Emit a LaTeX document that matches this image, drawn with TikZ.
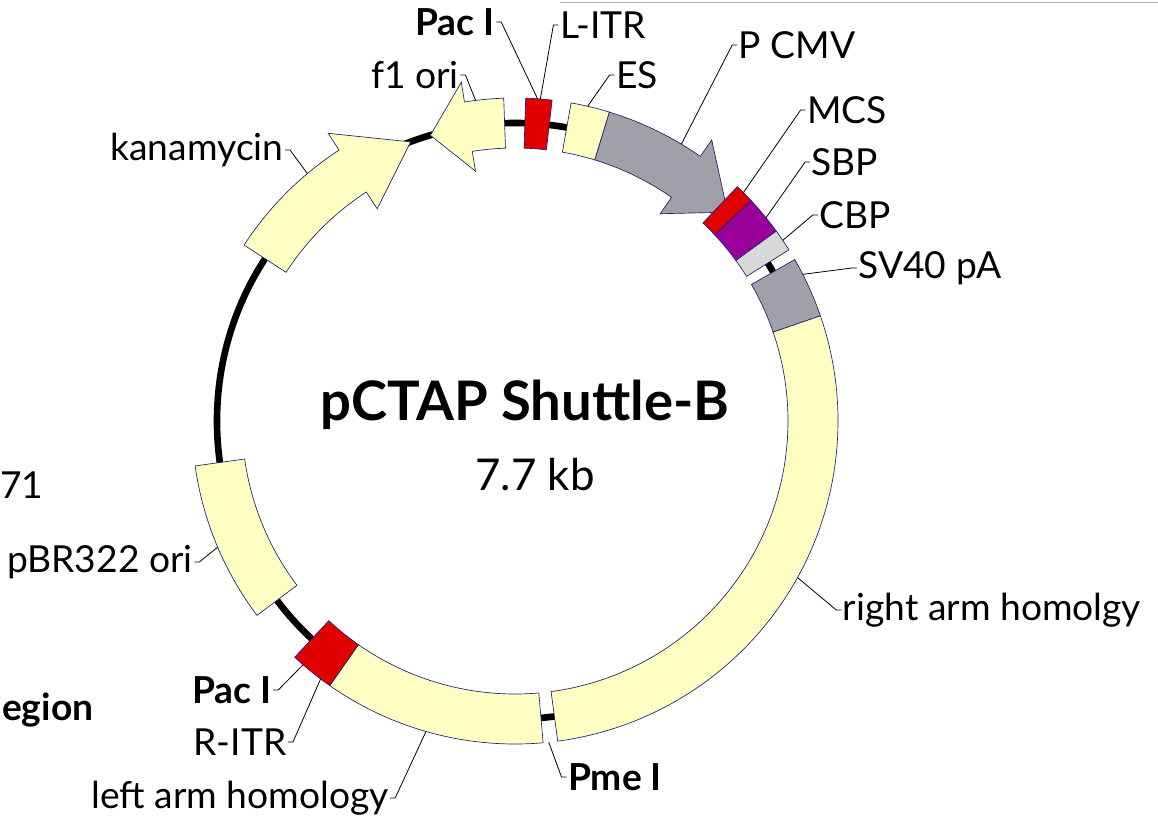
\documentclass[tikz,border=0pt]{standalone}
\usepackage{fontspec}
\setmainfont{Lato}
\usetikzlibrary{positioning}
\definecolor{featyellow}{HTML}{FFFFC4}
\definecolor{featred}{HTML}{E00000}
\definecolor{featgray}{HTML}{A0A0A8}
\definecolor{featpurple}{HTML}{990099}
\definecolor{featlight}{HTML}{D8D8D8}
\definecolor{edgeblue}{HTML}{202070}
% annular sector: start angle, end angle, style
\newcommand{\plseg}[3]{\draw[#3] (#1:273) arc[start angle=#1,end angle=#2,radius=273] -- (#2:323) arc[start angle=#2,end angle=#1,radius=323] -- cycle;}
% arrow: start, head base, tip, style
\newcommand{\plarrow}[4]{\draw[#4] (#1:273) arc[start angle=#1,end angle=#2,radius=273] -- (#2:253) -- (#3:298) -- (#2:343) -- (#2:323) arc[start angle=#2,end angle=#1,radius=323] -- cycle;}
\begin{document}
\begin{tikzpicture}[x=0.02646cm, y=0.02646cm,
    feat/.style={draw=edgeblue, line width=0.5pt, fill=#1},
    lbl/.style={font=\fontsize{28}{32}\selectfont, inner sep=1pt},
    blbl/.style={font=\fontsize{28}{32}\selectfont\bfseries, inner sep=1pt},
    lead/.style={line width=0.6pt}
]
\useasboundingbox (-515,-405) rectangle (643,421);
\draw[gray!60, line width=0.6pt] (45,419) -- (643,419);

% backbone
\draw[line width=5pt] (0,0) circle[radius=298];

% features
\plseg{73}{80}{feat=featyellow}
\plseg{83.4}{88.1}{feat=featred}
\plarrow{73}{55}{44.5}{feat=featgray}
\plseg{43}{46.5}{feat=featred}
\plseg{36}{43}{feat=featpurple}
\plseg{32}{36}{feat=featlight}
\plseg{19}{30}{feat=featgray}
\plseg{-82.4}{19}{feat=featyellow}
\plseg{235}{275}{feat=featyellow}
\plseg{227}{235}{feat=featred}
\plseg{188}{217}{feat=featyellow}
\plarrow{147}{123}{110.5}{feat=featyellow}
\plarrow{92}{99}{106.5}{feat=featyellow}

% labels
\node[blbl] (pactop) at (-60,399) {Pac I};
\node[lbl] (litr) at (88,396) {L-ITR};
\node[lbl] (fori) at (-100,346) {f1 ori};
\node[lbl] (es) at (122,346) {ES};
\node[lbl] (pcmv) at (282,376) {P CMV};
\node[lbl] (mcs) at (332,311) {MCS};
\node[lbl] (sbp) at (330,259) {SBP};
\node[lbl] (cbp) at (340,206) {CBP};
\node[lbl] (sv) at (415,153) {SV40 pA};
\node[lbl] (kan) at (-318,271) {kanamycin};
\node[lbl] (rarm) at (477,-189) {right arm homolgy};
\node[blbl] (pme) at (100,-356) {Pme I};
\node[lbl] (larm) at (-275,-377) {left arm homology};
\node[lbl] (ritr) at (-275,-321) {R-ITR};
\node[blbl] (pacbot) at (-283,-269) {Pac I};
\node[lbl] (pbr) at (-415,-141) {pBR322 ori};
\node[lbl, anchor=east] (size) at (-470,-64) {771};
\node[blbl, anchor=east] (reg) at (-420,-289) {egion};
\node[font=\fontsize{41}{46}\selectfont\bfseries] (title) at (10,16) {pCTAP Shuttle-B};
\node[font=\fontsize{33}{38}\selectfont] (kb) at (20,-54) {7.7 kb};

% leader lines
\draw[lead] (pactop.east) -- ++(5,0) -- (86:323);
\draw[lead] (litr.west) -- ++(-5,0) -- (85.5:323);
\draw[lead] (fori.east) -- ++(5,0) -- (97:323);
\draw[lead] (es.west) -- ++(-5,0) -- (77:323);
\draw[lead] (pcmv.west) -- ++(-5,0) -- (59:323);
\draw[lead] (mcs.west) -- ++(-5,0) -- (45:323);
\draw[lead] (sbp.west) -- ++(-5,0) -- (39:323);
\draw[lead] (cbp.west) -- ++(-5,0) -- (34:323);
\draw[lead] (sv.west) -- ++(-5,0) -- (27:323);
\draw[lead] (kan.east) -- ++(5,0) -- (130:323);
\draw[lead] (rarm.west) -- ++(-5,0) -- (-29:323);
\draw[lead] (pme.west) -- ++(-5,0) -- (-84:323);
\draw[lead] (larm.east) -- ++(5,0) -- (254:323);
\draw[lead] (ritr.east) -- ++(5,0) -- (233:323);
\draw[lead] (pacbot.east) -- ++(5,0) -- (229:323);
\draw[lead] (pbr.east) -- ++(5,0) -- (203:323);
\end{tikzpicture}
\end{document}
